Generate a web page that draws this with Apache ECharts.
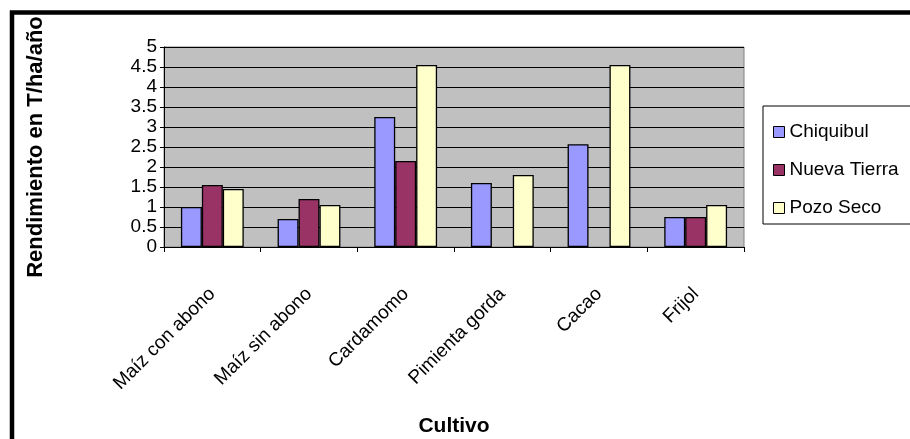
<!DOCTYPE html>
<html>
<head>
<meta charset="utf-8">
<style>
  html, body { margin: 0; padding: 0; background: #fff; }
  #chart { width: 910px; height: 439px; }
</style>
<script src="https://cdn.jsdelivr.net/npm/echarts@6/dist/echarts.min.js"></script>
</head>
<body>
<div id="chart"></div>
<script>
// Crop yields (T/ha/año) by site
const cultivos = ['Maíz con abono', 'Maíz sin abono', 'Cardamomo', 'Pimienta gorda', 'Cacao', 'Frijol'];
const chiquibul = [1.0, 0.7, 3.25, 1.6, 2.57, 0.75];
const nuevaTierra = [1.55, 1.2, 2.15, null, null, 0.75];
const pozoSeco = [1.45, 1.05, 4.55, 1.8, 4.55, 1.05];
const sitios = ['Chiquibul', 'Nueva Tierra', 'Pozo Seco'];
const colores = ['#9999FF', '#993366', '#FFFFCC'];

const FONT = 'Liberation Sans, Arial, sans-serif';

const chart = echarts.init(document.getElementById('chart'), null, { renderer: 'canvas' });

const seriesData = [chiquibul, nuevaTierra, pozoSeco];

chart.setOption({
  animation: false,
  backgroundColor: '#fff',
  textStyle: { fontFamily: FONT, color: '#000' },
  grid: {
    left: 164, top: 47, width: 580, height: 200,
    show: true, backgroundColor: '#C0C0C0', borderColor: '#808080', borderWidth: 1
  },
  legend: {
    orient: 'vertical',
    left: 768, top: 117,
    itemWidth: 11, itemHeight: 11,
    itemGap: 18,
    icon: 'rect',
    itemStyle: { borderColor: '#000', borderWidth: 1 },
    textStyle: { fontFamily: FONT, fontSize: 19, color: '#000', lineHeight: 20 },
    data: sitios
  },
  xAxis: {
    type: 'category',
    data: cultivos,
    name: 'Cultivo',
    nameLocation: 'middle',
    nameGap: 169,
    nameTextStyle: { fontFamily: FONT, fontSize: 21, fontWeight: 'bold', color: '#000' },
    axisLine: { lineStyle: { color: '#000', width: 1 } },
    axisTick: { show: true, length: 5, lineStyle: { color: '#000' } },
    axisLabel: { rotate: 45, margin: 44, fontSize: 19, color: '#000', fontFamily: FONT, interval: 0 }
  },
  yAxis: {
    type: 'value',
    min: 0, max: 5, interval: 0.5,
    name: 'Rendimiento en T/ha/año',
    nameLocation: 'middle',
    nameRotate: 90,
    nameGap: 117,
    nameTextStyle: { fontFamily: FONT, fontSize: 22, fontWeight: 'bold', color: '#000' },
    axisLine: { show: true, lineStyle: { color: '#000', width: 1 } },
    axisTick: { show: true, length: 4, lineStyle: { color: '#000' } },
    axisLabel: { margin: 7, fontSize: 19, color: '#000', fontFamily: FONT },
    splitLine: { show: true, lineStyle: { color: '#000', width: 1 } }
  },
  series: sitios.map((name, i) => ({
    name: name,
    type: 'bar',
    data: seriesData[i],
    barGap: '0%',
    barCategoryGap: '35%',
    itemStyle: { color: colores[i], borderColor: '#000', borderWidth: 1.3 }
  })),
  graphic: [
    {
      type: 'rect',
      silent: true,
      shape: { x: 763, y: 106, width: 300, height: 118 },
      style: { fill: 'none', stroke: '#000', lineWidth: 1 },
      z: 0
    },
    {
      type: 'rect',
      silent: true,
      shape: { x: 12, y: 12.5, width: 1000, height: 1000 },
      style: { fill: 'none', stroke: '#000', lineWidth: 4.5 },
      z: 100
    }
  ]
});
</script>
</body>
</html>
